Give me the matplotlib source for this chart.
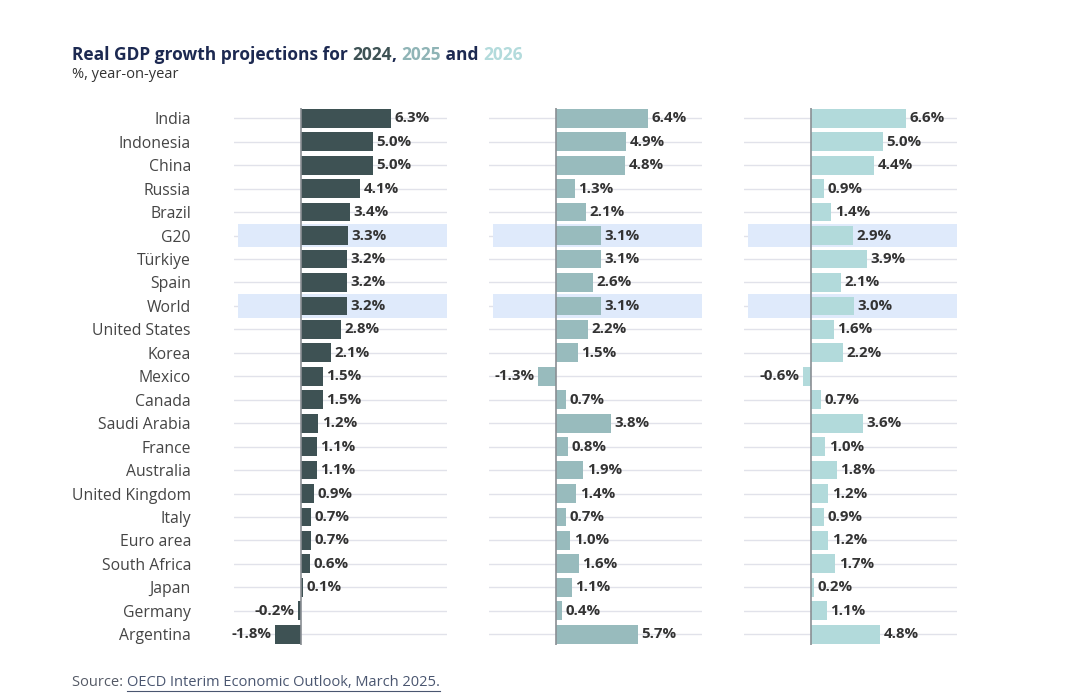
import numpy as np
import matplotlib.pyplot as plt
from matplotlib.lines import Line2D

plt.rcParams['font.family'] = ['Open Sans', 'DejaVu Sans']

countries = ["India", "Indonesia", "China", "Russia", "Brazil", "G20", "Türkiye",
             "Spain", "World", "United States", "Korea", "Mexico", "Canada",
             "Saudi Arabia", "France", "Australia", "United Kingdom", "Italy",
             "Euro area", "South Africa", "Japan", "Germany", "Argentina"]
gdp_2024 = [6.3, 5.0, 5.0, 4.1, 3.4, 3.3, 3.2, 3.2, 3.2, 2.8, 2.1, 1.5, 1.5,
            1.2, 1.1, 1.1, 0.9, 0.7, 0.7, 0.6, 0.1, -0.2, -1.8]
gdp_2025 = [6.4, 4.9, 4.8, 1.3, 2.1, 3.1, 3.1, 2.6, 3.1, 2.2, 1.5, -1.3, 0.7,
            3.8, 0.8, 1.9, 1.4, 0.7, 1.0, 1.6, 1.1, 0.4, 5.7]
gdp_2026 = [6.6, 5.0, 4.4, 0.9, 1.4, 2.9, 3.9, 2.1, 3.0, 1.6, 2.2, -0.6, 0.7,
            3.6, 1.0, 1.8, 1.2, 0.9, 1.2, 1.7, 0.2, 1.1, 4.8]
highlight = ["G20", "World"]

series = [gdp_2024, gdp_2025, gdp_2026]
colors = ["#3e5254", "#98bbbd", "#b2dadb"]

W, H = 1080, 699
fig = plt.figure(figsize=(W / 100, H / 100), dpi=100)

y = np.arange(len(countries))
lefts = [234, 489, 744]
ax_w = 213
top_px, bot_px = 108, 645

axes = []
for i, (vals, col) in enumerate(zip(series, colors)):
    ax = fig.add_axes([lefts[i] / W, (H - bot_px) / H, ax_w / W, (bot_px - top_px) / H])
    ax.set_xlim(-4.7, 10.2)
    ax.set_ylim(22.46, -0.44)
    for yy in y:
        ax.axhline(yy, color="#e1e2ea", lw=1, zorder=0)
    for name in highlight:
        k = countries.index(name)
        ax.axhspan(k - 0.5, k + 0.5, xmin=0.02, xmax=1, color="#dfeafb", zorder=0.5, lw=0)
    ax.barh(y, vals, height=0.8, color=col, zorder=2)
    ax.axvline(0, color="#8a8f94", lw=1.2, zorder=3)
    for yy, v in zip(y, vals):
        if v >= 0:
            ax.annotate(f"{v:.1f}%", (v, yy), xytext=(2.5, 0), textcoords="offset points",
                        ha="left", va="center", fontsize=10.8, fontweight="bold", color="#333333", zorder=4)
        else:
            ax.annotate(f"{v:.1f}%", (v, yy), xytext=(-2.5, 0), textcoords="offset points",
                        ha="right", va="center", fontsize=10.8, fontweight="bold", color="#333333", zorder=4)
    for s in ax.spines.values():
        s.set_visible(False)
    ax.set_xticks([])
    ax.set_yticks([])
    ax.patch.set_alpha(0)
    axes.append(ax)

ax0 = axes[0]
ax0.set_yticks(y)
ax0.set_yticklabels(countries, fontsize=11.3, color="#454545")
ax0.tick_params(axis="y", length=0, pad=31)

# title made of coloured pieces
fig.canvas.draw()
renderer = fig.canvas.get_renderer()
pieces = [("Real GDP growth projections for ", "#1c2951"), ("2024", "#3e5254"), (", ", "#1c2951"),
          ("2025", "#8fb4b6"), (" and ", "#1c2951"), ("2026", "#b3dbdc")]
x = 72 / W
for txt, c in pieces:
    t = fig.text(x, 1 - 55 / H, txt, fontsize=12.5, fontweight="bold", color=c, va="center", ha="left")
    bb = t.get_window_extent(renderer)
    x += bb.width / W
fig.text(72 / W, 1 - 75 / H, "%, year-on-year", fontsize=10.5, color="#333333", va="center", ha="left")

t1 = fig.text(72 / W, 1 - 682 / H, "Source: ", fontsize=10.5, color="#555a66", va="center", ha="left")
bb = t1.get_window_extent(renderer)
sx = 72 / W + bb.width / W
t2 = fig.text(sx, 1 - 682 / H, "OECD Interim Economic Outlook, March 2025.", fontsize=10.5,
              color="#4a5670", va="center", ha="left")
bb2 = t2.get_window_extent(renderer)
fig.add_artist(Line2D([sx, sx + bb2.width / W], [1 - 691 / H, 1 - 691 / H],
                      transform=fig.transFigure, color="#4a5670", lw=0.8))

fig.savefig("out.png", dpi=100)
